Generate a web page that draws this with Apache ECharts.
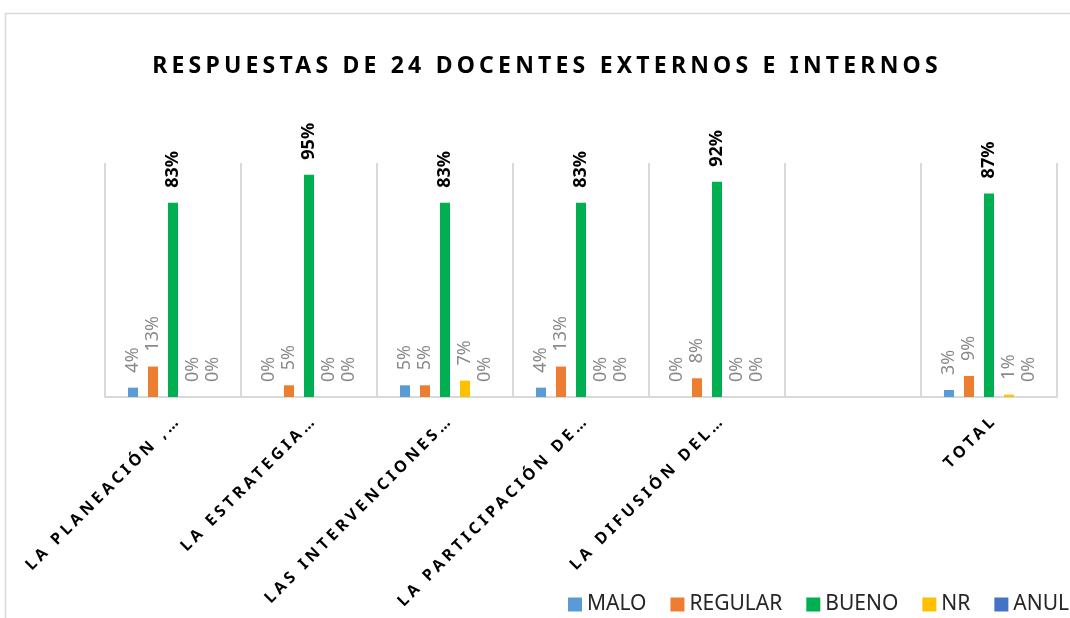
<!DOCTYPE html>
<html>
<head>
<meta charset="utf-8">
<script src="https://cdn.jsdelivr.net/npm/echarts@6/dist/echarts.min.js"></script>
<style>
html,body{margin:0;padding:0;background:#fff;}
#chart{width:1070px;height:618px;}
</style>
</head>
<body>
<div id="chart"></div>
<script>
const titleText = 'RESPUESTAS DE 24 DOCENTES EXTERNOS E INTERNOS';
const categories = ['LA PLANEACIÓN ,…', 'LA ESTRATEGIA…', 'LAS INTERVENCIONES…', 'LA PARTICIPACIÓN DE…', 'LA DIFUSIÓN DEL…', '', 'TOTAL'];
const seriesNames = ['MALO', 'REGULAR', 'BUENO', 'NR', 'ANUL'];
const malo = [4, 0, 5, 4, 0, null, 3];
const regular = [13, 5, 5, 13, 8, null, 9];
const bueno = [83, 95, 83, 83, 92, null, 87];
const nr = [0, 0, 7, 0, 0, null, 1];
const anul = [0, 0, 0, 0, 0, null, 0];
const colors = ['#5b9bd5', '#ed7d31', '#00b050', '#ffc000', '#4472c4'];

const values = [malo, regular, bueno, nr, anul];

// Letter spacing for the spaced-out title and category labels (canvas text stays real text)
(function () {
  const proto = CanvasRenderingContext2D.prototype;
  if (!('letterSpacing' in proto)) return;
  const orig = proto.fillText;
  proto.fillText = function (t, x, y, mw) {
    const f = this.font || '';
    let ls = '0px';
    if (/(bold|700)[^0-9]*23px/.test(f)) ls = '4.2px';
    else if (/(bold|700)[^0-9]*16px/.test(f)) ls = '3.8px';
    this.letterSpacing = ls;
    return mw === undefined ? orig.call(this, t, x, y) : orig.call(this, t, x, y, mw);
  };
})();

const chart = echarts.init(document.getElementById('chart'), null, {renderer: 'canvas'});

const series = values.map((vals, i) => ({
  name: seriesNames[i],
  type: 'bar',
  data: vals,
  barWidth: 10,
  barGap: '100%',
  itemStyle: {color: colors[i]},
  label: {
    show: true,
    position: 'top',
    distance: 15,
    rotate: 90,
    align: 'left',
    verticalAlign: 'middle',
    formatter: p => (p.value === null || p.value === undefined) ? '' : p.value + '%',
    fontFamily: 'Noto Sans',
    fontSize: 18,
    fontWeight: i === 2 ? 'bold' : 'normal',
    color: i === 2 ? '#000000' : '#8a8a8a'
  }
}));

chart.setOption({
  animation: false,
  backgroundColor: '#ffffff',
  color: colors,
  title: {
    text: titleText,
    left: 542,
    textAlign: 'center',
    top: 50,
    textStyle: {fontFamily: 'Noto Sans', fontWeight: 'bold', fontSize: 23, color: '#000000'}
  },
  graphic: [{
    type: 'polyline',
    silent: true,
    shape: {points: [[5.5, 618], [5.5, 13.5], [1070, 13.5]]},
    style: {stroke: '#d9d9d9', lineWidth: 1.5, fill: null}
  }],
  legend: {
    data: seriesNames,
    left: 563,
    top: 589,
    width: 2000,
    itemWidth: 14,
    itemHeight: 14,
    itemGap: 24,
    icon: 'rect',
    textStyle: {fontFamily: 'Noto Sans', fontSize: 21, color: '#262626'}
  },
  grid: {left: 105, right: 13, top: 163, bottom: 221, containLabel: false},
  xAxis: {
    type: 'category',
    data: categories,
    axisLine: {lineStyle: {color: '#d9d9d9', width: 2}},
    axisTick: {show: false},
    splitLine: {show: true, lineStyle: {color: '#d9d9d9', width: 2}},
    axisLabel: {
      interval: 0,
      rotate: 45,
      margin: 15,
      verticalAlign: 'top',
      fontFamily: 'Noto Sans',
      fontWeight: 'bold',
      fontSize: 16,
      color: '#000000'
    }
  },
  yAxis: {
    type: 'value',
    min: 0,
    max: 100,
    show: false,
    splitLine: {show: false}
  },
  series: series
});
</script>
</body>
</html>
